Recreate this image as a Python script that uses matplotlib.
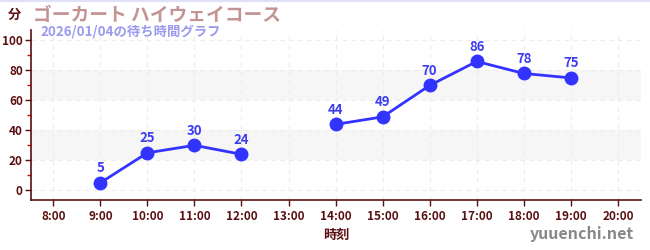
import numpy as np
import matplotlib.pyplot as plt
from matplotlib.ticker import MultipleLocator

plt.rcParams['font.family'] = ['Noto Sans CJK JP', 'DejaVu Sans']

# データ
hours = [9, 10, 11, 12, 13, 14, 15, 16, 17, 18, 19]
waits = [5, 25, 30, 24, np.nan, 44, 49, 70, 86, 78, 75]
xtick_hours = list(range(8, 21))
xtick_labels = [f"{h}:00" for h in xtick_hours]
ytick_values = [0, 20, 40, 60, 80, 100]

title = "ゴーカート ハイウェイコース"
subtitle = "2026/01/04の待ち時間グラフ"

axis_col = '#5a1010'
line_col = '#3333ff'

fig = plt.figure(figsize=(6.5, 2.5), dpi=100)
ax = fig.add_axes([0.048, 0.2, 0.938, 0.68])

# 背景の帯
for lo, hi in [(20, 40), (60, 80)]:
    ax.axhspan(lo, hi, color='#f6f6f6', zorder=0, lw=0)

ax.plot(hours, waits, color=line_col, lw=2, marker='o', ms=9, zorder=3)
for h, w in zip(hours, waits):
    if not np.isnan(w):
        ax.annotate(f"{int(w)}", (h, w), xytext=(0, 5.5), textcoords='offset points',
                    ha='center', va='bottom', color='#3d3df0', fontsize=9.5,
                    fontweight='bold')

ax.set_xlim(7.53, 20.49)
ax.set_ylim(-6.5, 107)
ax.set_xticks(xtick_hours)
ax.set_xticklabels(xtick_labels)
ax.set_yticks(ytick_values)
ax.yaxis.set_minor_locator(MultipleLocator(10))

ax.grid(True, which='major', color='#ececec', ls=(0, (4, 4)), lw=0.8)
ax.set_axisbelow(True)

for s in ['top', 'right']:
    ax.spines[s].set_visible(False)
for s in ['left', 'bottom']:
    ax.spines[s].set_color(axis_col)
    ax.spines[s].set_linewidth(1.2)

ax.tick_params(axis='both', which='major', colors=axis_col, labelsize=8.5,
               length=4, width=1)
ax.tick_params(axis='x', which='major', pad=3)
ax.tick_params(axis='y', which='major', pad=2)
ax.tick_params(axis='y', which='minor', color='#dd0000', length=3, width=1)
for lab in ax.get_xticklabels() + ax.get_yticklabels():
    lab.set_fontweight('bold')

ax.set_xlabel("時刻", color=axis_col, fontsize=9.5, fontweight='bold', labelpad=4)

fig.text(0.022, 0.94, "分", color=axis_col, fontsize=9.5, fontweight='bold',
         ha='center', va='center')
fig.text(0.051, 0.94, title, color='#c49494', fontsize=13.5, fontweight='bold',
         ha='left', va='center')
fig.text(0.062, 0.876, subtitle, color='#9a9aee', fontsize=9.6, fontweight='bold',
         ha='left', va='center')
fig.text(0.975, 0.065, "yuuenchi.net", color='#888888', fontsize=11.5,
         fontweight='bold', ha='right', va='center')

# 上端の細い線
fig.add_artist(plt.Line2D([0, 1], [0.998, 0.998], color='#e0e0f8', lw=1.5,
                          transform=fig.transFigure))

fig.savefig("out.png", dpi=100)
